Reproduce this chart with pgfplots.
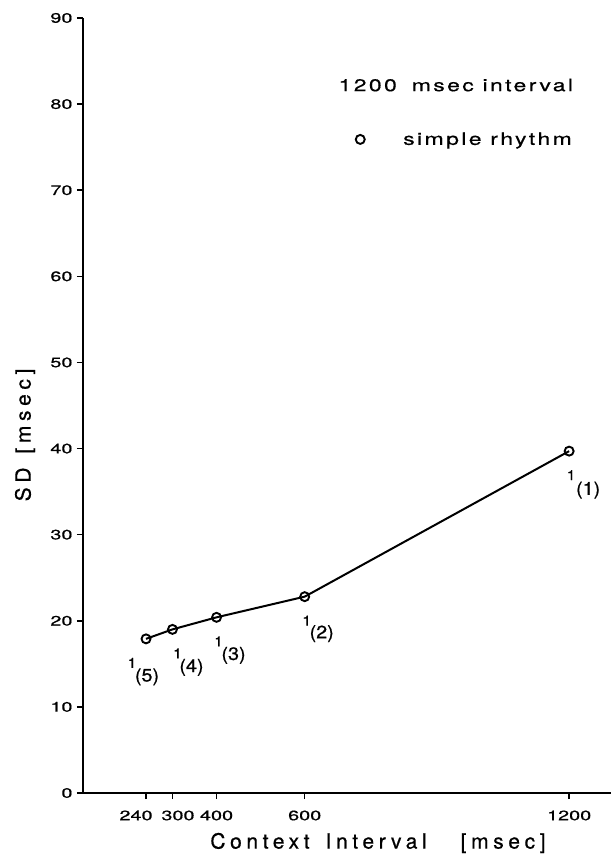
\documentclass[border=0pt]{standalone}
\usepackage{fontspec}
\setmainfont{TeX Gyre Heros}
\newfontfamily\tickfont{TeX Gyre Heros}[FakeStretch=1.45, FakeBold=0.6]
\newfontfamily\labfont{TeX Gyre Heros}[LetterSpace=22, FakeBold=0.6]
\newfontfamily\legfont{TeX Gyre Heros}[FakeStretch=1.35, LetterSpace=14, FakeBold=0.6]
\newfontfamily\annfont{TeX Gyre Heros}[FakeStretch=1.1, FakeBold=0.6]
\newcommand\tkf{\tickfont\fontsize{13.7bp}{16bp}\selectfont}
\newcommand\lbf{\labfont\fontsize{21bp}{24bp}\selectfont}
\newcommand\lgf{\legfont\fontsize{17bp}{20bp}\selectfont}
\newcommand\anf{\annfont\fontsize{18bp}{20bp}\selectfont}
\newcommand\ans{\annfont\fontsize{14bp}{16bp}\selectfont}
\usepackage{pgfplots}
\pgfplotsset{compat=1.18}
\begin{document}
\begin{tikzpicture}
\begin{axis}[
  name=ax,
  scale only axis, width=528bp, height=775bp,
  xmin=97, xmax=1295, ymin=0, ymax=90,
  axis lines=left,
  axis line style={-, line width=2.2bp},
  tick align=outside,
  major tick length=6bp,
  tick style={line width=1.6bp, black},
  xtick={240,300,400,600,1200},
  xticklabels={{\makebox[0pt]{\hspace{-20bp}240}},{\makebox[0pt]{\hspace{11bp}300}},400,600,1200},
  ytick={0,10,20,30,40,50,60,70,80,90},
  yticklabels={0,10,20,30,40,50,60,70,80,90},
  xticklabel style={font=\tkf, yshift=-8bp},
  yticklabel style={font=\tkf, xshift=-1bp},
  every axis x label/.style={at={(axis description cs:0.5587,-0.0645)}, anchor=center, font=\lbf},
  every axis y label/.style={at={(axis description cs:-0.1098,0.462)}, rotate=90, anchor=center, font=\lbf},
  xlabel={Context\hspace{16bp}Interval\hspace{34bp}[msec]},
  ylabel={SD\hspace{14bp}[msec]},
  legend style={draw=none, fill=none, at={(axis cs:707.5,75.9)}, anchor=west, font=\lgf},
  legend cell align=left,
  legend image code/.code={
    \path[draw=none, fill=none] (-5bp,-5bp) rectangle (41bp,5bp);
    \draw[black, line width=1.9bp] plot[mark=o, mark size=4.5bp] coordinates {(0bp,0bp)};
  },
]
\addplot[black, line width=2bp, mark=o, mark size=4.5bp,
  mark options={line width=1.9bp, fill=white, solid}]
  coordinates {(240,17.9) (300,19.0) (400,20.4) (600,22.8) (1200,39.7)};
\addlegendentry{simple rhythm}

\node[anchor=base west, font=\lgf] at (axis cs:669,81.5) {1200\hspace{15bp}msec interval};

\node[font=\ans, shift={(-14bp,-24bp)}] at (axis cs:240,17.9) {1};
\node[font=\anf, shift={(1bp,-38bp)}] at (axis cs:240,17.9) {(5)};
\node[font=\ans, shift={(5bp,-24bp)}] at (axis cs:300,19.0) {1};
\node[font=\anf, shift={(19bp,-38bp)}] at (axis cs:300,19.0) {(4)};
\node[font=\ans, shift={(2bp,-24bp)}] at (axis cs:400,20.4) {1};
\node[font=\anf, shift={(17bp,-38bp)}] at (axis cs:400,20.4) {(3)};
\node[font=\ans, shift={(2bp,-24bp)}] at (axis cs:600,22.8) {1};
\node[font=\anf, shift={(17bp,-37bp)}] at (axis cs:600,22.8) {(2)};
\node[font=\ans, shift={(2bp,-24bp)}] at (axis cs:1200,39.7) {1};
\node[font=\anf, shift={(19bp,-39bp)}] at (axis cs:1200,39.7) {(1)};
\end{axis}
\pgfresetboundingbox
\path ([shift={(-83bp,-62bp)}]ax.south west) rectangle ([shift={(0bp,18bp)}]ax.north east);
\end{tikzpicture}
\end{document}
